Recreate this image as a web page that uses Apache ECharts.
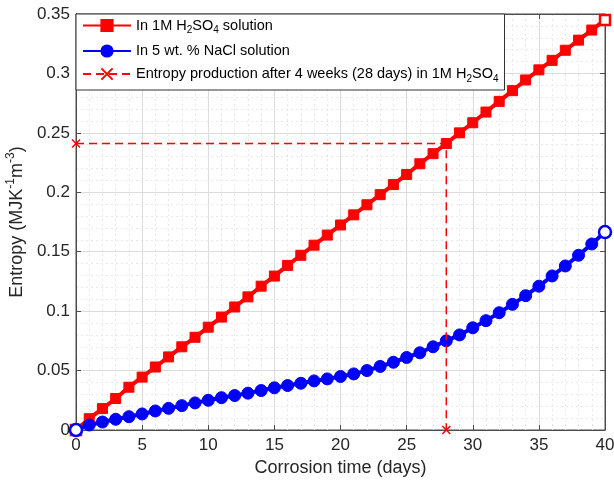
<!DOCTYPE html>
<html>
<head>
<meta charset="utf-8">
<script src="https://cdn.jsdelivr.net/npm/echarts@6/dist/echarts.min.js"></script>
<style>html,body{margin:0;padding:0;background:#fff}#c{width:614px;height:483px}</style>
</head>
<body>
<div id="c"></div>
<script>
var days = [];
for (var i = 0; i <= 40; i++) days.push(i);
var h2so4 = [0, 0.0095, 0.018, 0.0265, 0.036, 0.0445, 0.053, 0.0615, 0.07, 0.078, 0.0865,
  0.095, 0.1035, 0.112, 0.121, 0.1295, 0.1385, 0.147, 0.1555, 0.164, 0.1725,
  0.181, 0.1895, 0.198, 0.2065, 0.215, 0.224, 0.2325, 0.241, 0.25, 0.2585,
  0.2675, 0.2765, 0.2855, 0.2945, 0.303, 0.311, 0.3195, 0.328, 0.3365, 0.345];
var nacl = [0, 0.0042, 0.0067, 0.009, 0.0112, 0.0135, 0.016, 0.0182, 0.0205, 0.0228, 0.025,
  0.0272, 0.029, 0.031, 0.0332, 0.0355, 0.0374, 0.0393, 0.0413, 0.043, 0.045,
  0.0472, 0.05, 0.0535, 0.057, 0.061, 0.065, 0.07, 0.075, 0.08, 0.086,
  0.092, 0.0987, 0.1057, 0.113, 0.121, 0.1296, 0.138, 0.147, 0.1565, 0.1665];
var markDay = [0, 28, 28];
var markVal = [0.241, 0.241, 0];
var xTicks = [0, 40, 5];
var yTicks = [0, 0.35, 0.05];
var names = ['In 1M H2SO4 solution', 'In 5 wt. % NaCl solution', 'Entropy production after 4 weeks (28 days) in 1M H2SO4'];
var legendRich = {
  'In 1M H2SO4 solution': '{n|In 1M H}{s|2}{n|SO}{s|4}{n| solution}',
  'In 5 wt. % NaCl solution': '{n|In 5 wt. % NaCl solution}',
  'Entropy production after 4 weeks (28 days) in 1M H2SO4': '{n|Entropy production after 4 weeks (28 days) in 1M H}{s|2}{n|SO}{s|4}'
};

function pairs(xs, ys, hollowEnds, color) {
  return xs.map(function (x, i) {
    var d = { value: [x, ys[i]] };
    if (hollowEnds && (i === 0 || i === xs.length - 1)) {
      d.itemStyle = { color: '#ffffff', borderColor: color, borderWidth: 2.5 };
    }
    return d;
  });
}

var RED = '#ff0000', BLUE = '#0000ff';
var FONT = 'Liberation Sans, Arial, sans-serif';
var axisColor = '#262626';
var gridMajor = { show: true, lineStyle: { color: '#dcdcdc', width: 1 } };
var gridMinor = { show: true, lineStyle: { color: '#e8e8e8', width: 1, type: [2, 3] } };

var chart = echarts.init(document.getElementById('c'), null, { renderer: 'canvas' });
chart.setOption({
  animation: false,
  backgroundColor: '#ffffff',
  grid: { left: 76, right: 9, top: 14, bottom: 53, show: true, borderColor: '#4d4d4d', borderWidth: 1, backgroundColor: 'transparent', containLabel: false, outerBoundsMode: 'none' },
  legend: {
    orient: 'vertical', left: 76, top: 14,
    backgroundColor: '#ffffff', borderColor: '#333333', borderWidth: 1, borderRadius: 0,
    padding: [4, 6, 6, 6], itemGap: 8, itemWidth: 48, itemHeight: 14,
    data: names,
    formatter: function (n) { return legendRich[n]; },
    textStyle: {
      color: '#000', fontFamily: FONT,
      rich: {
        n: { fontSize: 14.5, lineHeight: 20, verticalAlign: 'middle', fontFamily: FONT, color: '#000' },
        s: { fontSize: 10, lineHeight: 9, verticalAlign: 'bottom', fontFamily: FONT, color: '#000' }
      }
    }
  },
  xAxis: [{
    type: 'value', min: xTicks[0], max: xTicks[1], interval: xTicks[2],
    name: 'Corrosion time (days)', nameLocation: 'middle', nameGap: 28,
    nameTextStyle: { fontSize: 18, color: axisColor, fontFamily: FONT },
    axisLine: { show: true, onZero: false, lineStyle: { color: '#4d4d4d' } },
    axisTick: { show: true, inside: true, length: 5, lineStyle: { color: '#4d4d4d' } },
    axisLabel: { fontSize: 17, color: axisColor, margin: 7, fontFamily: FONT },
    splitLine: gridMajor,
    minorTick: { show: false, splitNumber: 5 },
    minorSplitLine: gridMinor
  }, {
    type: 'value', position: 'top', min: xTicks[0], max: xTicks[1], interval: xTicks[2],
    axisLine: { show: true, onZero: false, lineStyle: { color: '#4d4d4d' } },
    axisTick: { show: true, inside: true, length: 5, lineStyle: { color: '#4d4d4d' } },
    axisLabel: { show: false }, splitLine: { show: false }
  }],
  yAxis: [{
    type: 'value', min: yTicks[0], max: yTicks[1], interval: yTicks[2],
    name: '{n|Entropy (MJK}{p|-1}{n|m}{p|-3}{n|)}', nameLocation: 'middle', nameGap: 44,
    nameTextStyle: {
      color: axisColor, fontFamily: FONT,
      rich: {
        n: { fontSize: 18, lineHeight: 24, verticalAlign: 'middle', color: axisColor, fontFamily: FONT },
        p: { fontSize: 12, lineHeight: 11, verticalAlign: 'top', color: axisColor, fontFamily: FONT }
      }
    },
    axisLine: { show: true, onZero: false, lineStyle: { color: '#4d4d4d' } },
    axisTick: { show: true, inside: true, length: 5, lineStyle: { color: '#4d4d4d' } },
    axisLabel: { fontSize: 17, color: axisColor, margin: 6, fontFamily: FONT },
    splitLine: gridMajor,
    minorTick: { show: false, splitNumber: 5 },
    minorSplitLine: gridMinor
  }, {
    type: 'value', position: 'right', min: yTicks[0], max: yTicks[1], interval: yTicks[2],
    axisLine: { show: true, onZero: false, lineStyle: { color: '#4d4d4d' } },
    axisTick: { show: true, inside: true, length: 5, lineStyle: { color: '#4d4d4d' } },
    axisLabel: { show: false }, splitLine: { show: false }
  }],
  series: [{
    name: names[0], type: 'line', xAxisIndex: 0, yAxisIndex: 0, z: 3,
    data: pairs(days, h2so4, true, RED),
    symbol: 'rect', symbolSize: 10, showAllSymbol: true,
    lineStyle: { color: RED, width: 4 },
    itemStyle: { color: RED, borderColor: RED, borderWidth: 1 }
  }, {
    name: names[1], type: 'line', xAxisIndex: 0, yAxisIndex: 0, z: 4,
    data: pairs(days, nacl, true, BLUE),
    symbol: 'circle', symbolSize: 12, showAllSymbol: true,
    lineStyle: { color: BLUE, width: 4 },
    itemStyle: { color: BLUE, borderColor: BLUE, borderWidth: 1 }
  }, {
    name: names[2], type: 'line', xAxisIndex: 0, yAxisIndex: 0, z: 5,
    data: markDay.map(function (d, i) { return [d, markVal[i]]; }),
    symbol: 'path://M0,0L10,10M10,0L0,10', symbolSize: 8, showAllSymbol: true,
    lineStyle: { color: RED, width: 1.5, type: [8, 5] },
    itemStyle: { color: 'rgba(0,0,0,0)', borderColor: RED, borderWidth: 1.5 }
  }]
});
</script>
</body>
</html>
